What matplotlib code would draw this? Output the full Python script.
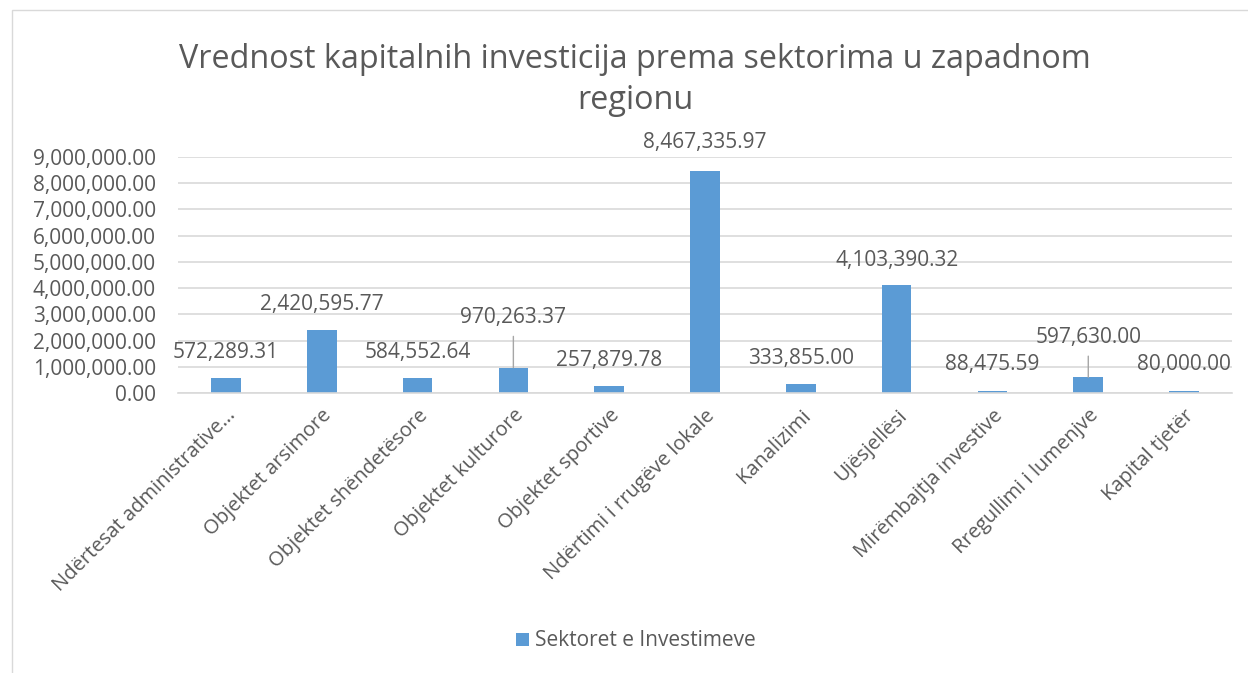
import matplotlib.pyplot as plt
from matplotlib.patches import Rectangle

categories = [
    'Ndërtesat administrative…', 'Objektet arsimore', 'Objektet shëndetësore',
    'Objektet kulturore', 'Objektet sportive', 'Ndërtimi i rrugëve lokale',
    'Kanalizimi', 'Ujësjellësi', 'Mirëmbajtja investive',
    'Rregullimi i lumenjve', 'Kapital tjetër',
]
values = [572289.31, 2420595.77, 584552.64, 970263.37, 257879.78,
          8467335.97, 333855.00, 4103390.32, 88475.59, 597630.00, 80000.00]
series_name = 'Sektoret e Investimeve'
title = 'Vrednost kapitalnih investicija prema sektorima u zapadnom\nregionu'

# label offset above bar top (pixels); bigger ones get a leader line
label_offsets = [25, 25, 25, 50, 26, 28, 26, 25, 26, 40, 26]

bar_color = '#5B9BD5'
text_color = '#595959'
grid_color = '#D9D9D9'

plt.rcParams['font.family'] = ['Open Sans', 'DejaVu Sans']

fig = plt.figure(figsize=(12.48, 6.73), dpi=100)
ax = fig.add_axes([178 / 1248, 1 - 393 / 673, (1232 - 178) / 1248, (393 - 157) / 673])

# chart border like in excel
fig.patches.append(Rectangle((12 / 1248, -0.1), 1.2, 1 - 10 / 673 + 0.1,
                             transform=fig.transFigure, fill=False,
                             edgecolor='#D9D9D9', linewidth=1))

x = list(range(len(categories)))
bars = ax.bar(x, values, width=0.31, color=bar_color, zorder=2, label=series_name)

ax.set_ylim(0, 9000000)
ax.set_xlim(-0.5, len(categories) - 0.5)
ax.set_yticks([i * 1000000 for i in range(10)])
ax.set_yticklabels(['{:,.2f}'.format(i * 1000000) for i in range(10)],
                   fontsize=15, color=text_color)
ax.yaxis.grid(True, color=grid_color, linewidth=1.2, zorder=0)
ax.set_axisbelow(True)
for s in ['top', 'right', 'left']:
    ax.spines[s].set_visible(False)
ax.spines['bottom'].set_color(grid_color)
ax.spines['bottom'].set_linewidth(1.2)
ax.tick_params(axis='both', length=0)
ax.tick_params(axis='y', pad=16)

ax.set_xticks(x)
ax.set_xticklabels(categories, rotation=45, ha='right', rotation_mode='anchor',
                   fontsize=14.5, color=text_color)
ax.tick_params(axis='x', pad=9)

for i, v in enumerate(values):
    off = label_offsets[i]
    if off > 30:
        ax.annotate('{:,.2f}'.format(v), xy=(i, v), xytext=(0, off),
                    textcoords='offset pixels', ha='center', va='center',
                    fontsize=15, color=text_color,
                    arrowprops=dict(arrowstyle='-', color='#A6A6A6', lw=1,
                                    shrinkA=4, shrinkB=0))
    else:
        ax.annotate('{:,.2f}'.format(v), xy=(i, v), xytext=(0, off),
                    textcoords='offset pixels', ha='center', va='center',
                    fontsize=15, color=text_color)

fig.text(635 / 1248, 1 - 80 / 673, title, ha='center', va='center',
         fontsize=23.3, color=text_color, linespacing=1.35)

fig.legend(handles=[bars], labels=[series_name], loc='center',
           bbox_to_anchor=(636 / 1248, 1 - 641 / 673), frameon=False,
           fontsize=15, labelcolor=text_color, handlelength=0.6,
           handleheight=0.6, handletextpad=0.3)

fig.savefig('out.png', dpi=100)
